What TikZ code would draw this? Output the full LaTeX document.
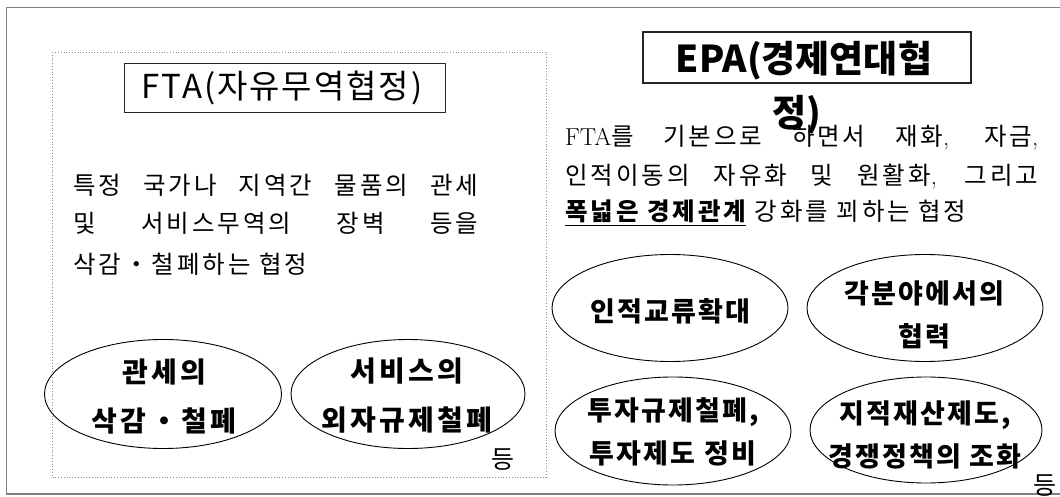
\documentclass[tikz,border=0pt]{standalone}
\usepackage{fontspec}
\newfontfamily\kr{Noto Sans CJK KR}
\newfontfamily\krbody{Noto Sans CJK KR}[LetterSpace=12]
\newfontfamily\krfta{Noto Sans CJK KR}[LetterSpace=12]
\newfontfamily\krepa{Noto Sans CJK KR}[LetterSpace=8]
\newfontfamily\krtitle{Noto Sans CJK KR}[LetterSpace=6]
\usetikzlibrary{shapes.geometric}
\tikzset{
  frameline/.style={draw=black!50, line width=1.6pt},
  dotbox/.style={draw=black!45, dotted, line width=0.8pt},
  titlebox/.style={draw=black!85, line width=1.1pt, inner sep=0pt},
  oval/.style={ellipse, draw=black, line width=0.9pt, inner sep=0pt},
  bodyline/.style={anchor=base west, inner sep=0pt, font=\krbody\fontsize{24.5}{28}\selectfont},
  ftaovaltext/.style={align=center, inner sep=0pt, font=\krfta\bfseries\fontsize{28}{49}\selectfont},
  epaovaltext/.style={align=center, inner sep=0pt, font=\krepa\bfseries\fontsize{27}{43}\selectfont},
  etctext/.style={inner sep=0pt, font=\kr\fontsize{25}{28}\selectfont},
}
\begin{document}
\begin{tikzpicture}[x=1pt,y=-1pt]
\useasboundingbox (0,0) rectangle (1060,497);
% outer frame
\draw[frameline] (1062,7.5) -- (6.5,7.5) -- (6.5,494) -- (1062,494);
% dotted FTA area
\draw[dotbox] (52,52) rectangle (546,477);

% FTA title
\node[titlebox, minimum width=321pt, minimum height=49pt] (ftaT) at (285,88) {};
\node[inner sep=0pt, font=\krtitle\fontsize{33}{33}\selectfont] (ftaTt) at (282,88) {FTA(자유무역협정)};

% FTA body
\node[bodyline] (f1) at (73,194.5) {\makebox[405pt][s]{특정 국가나 지역간 물품의 관세}};
\node[bodyline] (f2) at (73,233) {\makebox[405pt][s]{및 서비스무역의 장벽 등을}};
\node[bodyline] (f3) at (73,273) {삭감・철폐하는 협정};

% FTA ovals
\node[oval, minimum width=237pt, minimum height=109pt] (o1) at (163,394) {};
\node[ftaovaltext] (o1t) at (164,396) {관세의\\삭감・철폐};
\node[oval, minimum width=234pt, minimum height=109pt] (o2) at (408,394) {};
\node[ftaovaltext] (o2t) at (407,396) {서비스의\\외자규제철폐};
\node[etctext] (etc1) at (503,460) {등};

% EPA title
\node[titlebox, minimum width=328pt, minimum height=51pt] (epaT) at (807,57.5) {};
\node[inner sep=0pt, font=\kr\bfseries\fontsize{37}{37}\selectfont] (epaT1) at (804,61) {EPA(경제연대협};
\node[inner sep=0pt, font=\kr\bfseries\fontsize{37}{37}\selectfont] (epaT2) at (797,115) {정)};

% EPA body
\node[bodyline] (e1) at (565,146) {\makebox[473pt][s]{{\rmfamily FTA}를 기본으로 하면서 재화{\rmfamily,} 자금{\rmfamily,}}};
\node[bodyline] (e2) at (565,185) {\makebox[473pt][s]{인적이동의 자유화 및 원활화{\rmfamily,} 그리고}};
\node[bodyline] (e3) at (565,221) {\underline{\bfseries 폭넓은 경제관계} 강화를 꾀하는 협정};

% EPA ovals
\node[oval, minimum width=236pt, minimum height=107pt] (p1) at (670,308) {};
\node[epaovaltext] (p1t) at (670,311) {인적교류확대};
\node[oval, minimum width=236pt, minimum height=107pt] (p2) at (925,308) {};
\node[epaovaltext] (p2t) at (924,315) {각분야에서의\\협력};
\node[oval, minimum width=236pt, minimum height=108pt] (p3) at (673,431) {};
\node[epaovaltext] (p3t) at (673,432) {투자규제철폐,\\투자제도 정비};
\node[oval, minimum width=232pt, minimum height=106pt] (p4) at (926,430) {};
\node[epaovaltext] (p4t) at (925,435) {지적재산제도,\\경쟁정책의 조화};
\node[etctext] (etc2) at (1045,486) {등};
\end{tikzpicture}
\end{document}
